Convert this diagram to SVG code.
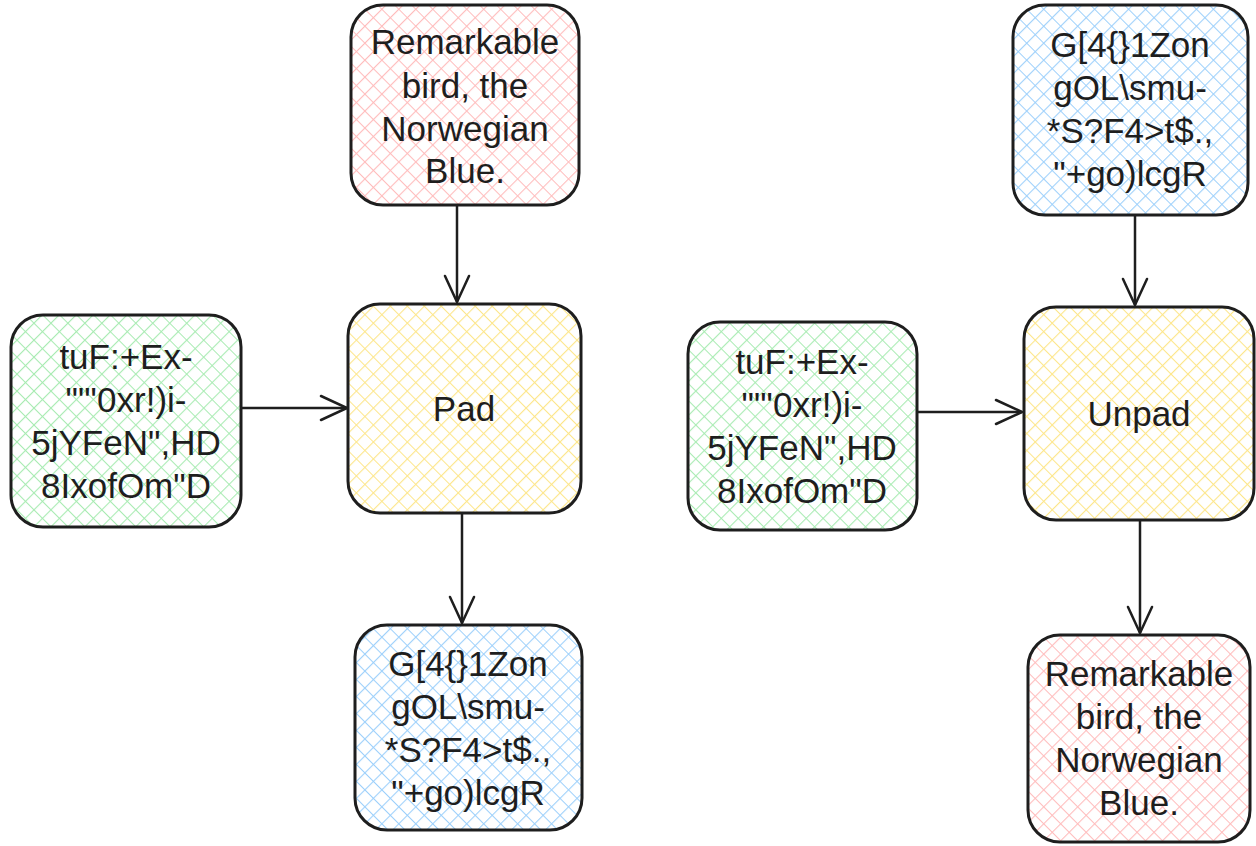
<svg xmlns="http://www.w3.org/2000/svg" width="1256" height="846" viewBox="0 0 1256 846">
  <style>
    .box { stroke: #1e1e1e; stroke-width: 3; }
    .lbl { font-family: "Liberation Sans", "DejaVu Sans", sans-serif; font-size: 35px; fill: #1e1e1e; text-anchor: middle; dominant-baseline: central; }
    .edge { stroke: #1e1e1e; stroke-width: 2.5; fill: none; }
  </style>
  <defs>
    <!-- cross-hatch fills -->
    <pattern id="hPink" width="12" height="12" patternUnits="userSpaceOnUse" patternTransform="rotate(45)">
      <rect width="12" height="12" fill="#fff"/>
      <path d="M0 0H12M0 0V12" stroke="#ffbcbc" stroke-width="2.2"/>
    </pattern>
    <pattern id="hGreen" width="12" height="12" patternUnits="userSpaceOnUse" patternTransform="rotate(45)">
      <rect width="12" height="12" fill="#fff"/>
      <path d="M0 0H12M0 0V12" stroke="#a8ebb2" stroke-width="2.2"/>
    </pattern>
    <pattern id="hBlue" width="12" height="12" patternUnits="userSpaceOnUse" patternTransform="rotate(45)">
      <rect width="12" height="12" fill="#fff"/>
      <path d="M0 0H12M0 0V12" stroke="#9dd0fb" stroke-width="2.2"/>
    </pattern>
    <pattern id="hYellow" width="12" height="12" patternUnits="userSpaceOnUse" patternTransform="rotate(45)">
      <rect width="12" height="12" fill="#fff"/>
      <path d="M0 0H12M0 0V12" stroke="#fde68a" stroke-width="2.2"/>
    </pattern>
    <marker id="arrow" viewBox="0 0 30 30" refX="28" refY="15" markerWidth="30" markerHeight="30" markerUnits="userSpaceOnUse" orient="auto">
      <path d="M2 3L28 15L2 27" fill="none" stroke="#1e1e1e" stroke-width="2.5" stroke-linecap="round"/>
    </marker>
  </defs>

  <rect width="1256" height="846" fill="#fff"/>

  <g id="connectors">
    <path class="edge" d="M457 205V302" marker-end="url(#arrow)"/>
    <path class="edge" d="M241 408H347" marker-end="url(#arrow)"/>
    <path class="edge" d="M462 513V623" marker-end="url(#arrow)"/>
    <path class="edge" d="M1135 215V305" marker-end="url(#arrow)"/>
    <path class="edge" d="M917 412H1022" marker-end="url(#arrow)"/>
    <path class="edge" d="M1140 520V633" marker-end="url(#arrow)"/>
  </g>

  <g id="bird-in">
    <rect class="box" x="351" y="5" width="228" height="200" rx="32" fill="url(#hPink)"/>
    <text class="lbl" x="465" y="41">Remarkable</text>
    <text class="lbl" x="465" y="85">bird, the</text>
    <text class="lbl" x="465" y="128">Norwegian</text>
    <text class="lbl" x="465" y="170">Blue.</text>
  </g>

  <g id="key-left">
    <rect class="box" x="11" y="315" width="230" height="212" rx="32" fill="url(#hGreen)"/>
    <text class="lbl" x="126" y="356">tuF:+Ex-</text>
    <text class="lbl" x="126" y="399">""'0xr!)i-</text>
    <text class="lbl" x="126" y="442">5jYFeN",HD</text>
    <text class="lbl" x="126" y="485">8IxofOm"D</text>
  </g>

  <g id="pad">
    <rect class="box" x="348" y="304" width="233" height="209" rx="32" fill="url(#hYellow)"/>
    <text class="lbl" x="464" y="408">Pad</text>
  </g>

  <g id="cipher-out">
    <rect class="box" x="355" y="625" width="227" height="205" rx="32" fill="url(#hBlue)"/>
    <text class="lbl" x="468" y="663">G[4{}1Zon</text>
    <text class="lbl" x="468" y="706">gOL\smu-</text>
    <text class="lbl" x="468" y="749">*S?F4&gt;t$.,</text>
    <text class="lbl" x="468" y="792">"+go)lcgR</text>
  </g>

  <g id="cipher-in">
    <rect class="box" x="1013" y="5" width="235" height="210" rx="32" fill="url(#hBlue)"/>
    <text class="lbl" x="1130" y="44">G[4{}1Zon</text>
    <text class="lbl" x="1130" y="87">gOL\smu-</text>
    <text class="lbl" x="1130" y="130">*S?F4&gt;t$.,</text>
    <text class="lbl" x="1130" y="173">"+go)lcgR</text>
  </g>

  <g id="key-right">
    <rect class="box" x="688" y="322" width="229" height="208" rx="32" fill="url(#hGreen)"/>
    <text class="lbl" x="802" y="361">tuF:+Ex-</text>
    <text class="lbl" x="802" y="404">""'0xr!)i-</text>
    <text class="lbl" x="802" y="447">5jYFeN",HD</text>
    <text class="lbl" x="802" y="490">8IxofOm"D</text>
  </g>

  <g id="unpad">
    <rect class="box" x="1024" y="307" width="230" height="213" rx="32" fill="url(#hYellow)"/>
    <text class="lbl" x="1139" y="413">Unpad</text>
  </g>

  <g id="bird-out">
    <rect class="box" x="1028" y="635" width="222" height="207" rx="32" fill="url(#hPink)"/>
    <text class="lbl" x="1139" y="673">Remarkable</text>
    <text class="lbl" x="1139" y="716">bird, the</text>
    <text class="lbl" x="1139" y="759">Norwegian</text>
    <text class="lbl" x="1139" y="802">Blue.</text>
  </g>
</svg>
